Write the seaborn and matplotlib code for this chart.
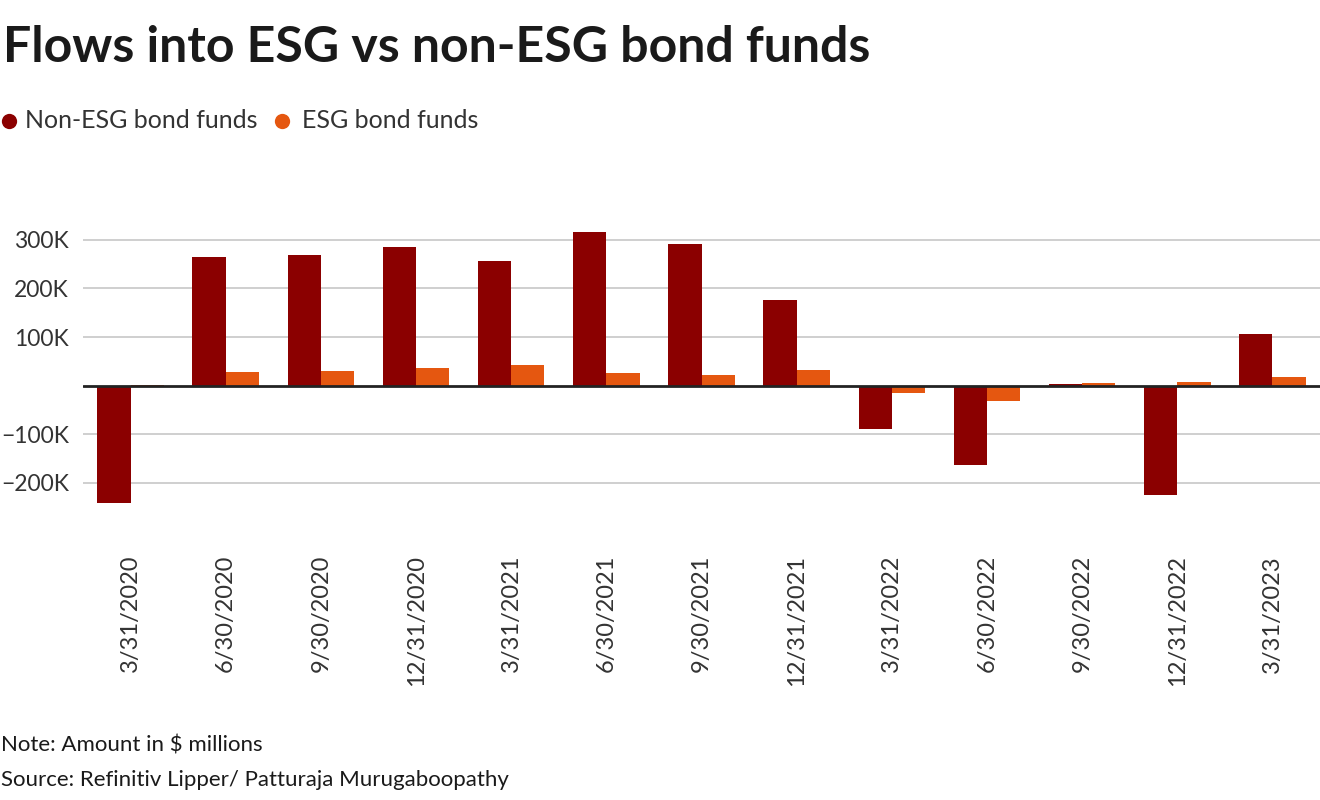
import matplotlib
matplotlib.use('Agg')
import matplotlib.pyplot as plt
from matplotlib.lines import Line2D
import seaborn as sns
import pandas as pd
from matplotlib.ticker import FuncFormatter

quarters = ['3/31/2020', '6/30/2020', '9/30/2020', '12/31/2020', '3/31/2021',
            '6/30/2021', '9/30/2021', '12/31/2021', '3/31/2022', '6/30/2022',
            '9/30/2022', '12/31/2022', '3/31/2023']
non_esg = [-241000, 264000, 268000, 285000, 256000, 317000, 291000, 176000,
           -89000, -163000, 3000, -226000, 106000]
esg = [500, 28000, 30000, 36000, 42000, 26000, 22000, 32000,
       -16000, -31000, 5000, 7000, 18000]
series_names = ['Non-ESG bond funds', 'ESG bond funds']
palette = ['#8b0000', '#e55710']

df = pd.DataFrame({
    'quarter': quarters * 2,
    'flow': non_esg + esg,
    'series': [series_names[0]] * len(quarters) + [series_names[1]] * len(quarters),
})

sns.set_style('white')
plt.rcParams['font.family'] = ['Lato', 'DejaVu Sans']

fig = plt.figure(figsize=(13.2, 8), dpi=100)
ax = fig.add_axes([83 / 1320, 1 - 530 / 800, 1 - 83 / 1320, 315 / 800])

sns.barplot(data=df, x='quarter', y='flow', hue='series', palette=palette,
            width=0.7, saturation=1, linewidth=0, ax=ax, legend=False, zorder=3)

ax.set_ylim(-297000, 351000)
ax.set_xlim(-0.5, len(quarters) - 0.5)
ax.set_yticks([-200000, -100000, 100000, 200000, 300000])
ax.yaxis.set_major_formatter(FuncFormatter(
    lambda v, p: ('\u2212' if v < 0 else '') + f'{abs(v) / 1000:.0f}K'))
ax.grid(axis='y', color='#cccccc', linewidth=1.3, zorder=0)
ax.axhline(0, color='#222222', linewidth=2, zorder=4)
for s in ax.spines.values():
    s.set_visible(False)
ax.set_xlabel('')
ax.set_ylabel('')
ax.tick_params(axis='y', length=0, labelsize=16.5, labelcolor='#333333', pad=10)
ax.tick_params(axis='x', length=0, labelsize=17, labelcolor='#333333',
               rotation=90, pad=18)

fig.text(0.002, 0.94, 'Flows into ESG vs non-ESG bond funds', fontsize=36,
         fontweight='bold', color='#1a1a1a', va='center', ha='left')

# legend: filled circles + labels
for xpos, col in zip([0.0065, 0.2135], palette):
    fig.add_artist(Line2D([xpos], [0.849], marker='o', markersize=11,
                          color=col, markeredgewidth=0, linestyle='none',
                          transform=fig.transFigure))
fig.text(0.019, 0.849, series_names[0], fontsize=18, color='#333333', va='center')
fig.text(0.2285, 0.849, series_names[1], fontsize=18, color='#333333', va='center')

fig.text(0.001, 0.068, 'Note: Amount in $ millions', fontsize=16,
         color='#1a1a1a', va='center')
fig.text(0.001, 0.025, 'Source: Refinitiv Lipper/ Patturaja Murugaboopathy',
         fontsize=16, color='#1a1a1a', va='center')

fig.savefig('out.png', dpi=100)
